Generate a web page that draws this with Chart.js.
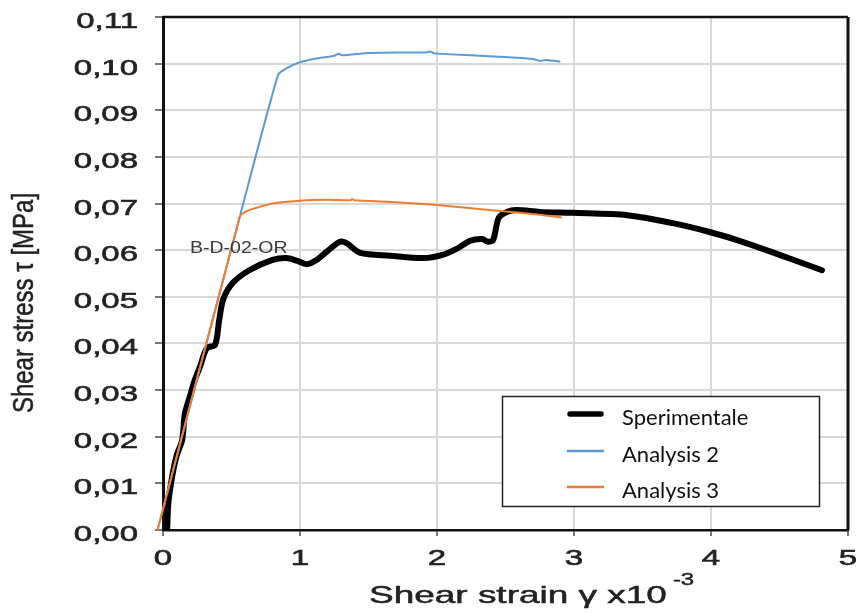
<!DOCTYPE html>
<html>
<head>
<meta charset="utf-8">
<title>Shear stress vs shear strain</title>
<script src="https://cdn.jsdelivr.net/npm/chart.js@4.4.1/dist/chart.umd.min.js"></script>
<style>
  html, body { margin: 0; padding: 0; background: #fff; }
  #wrap { width: 859px; height: 613px; }
</style>
</head>
<body>
<div id="wrap"><canvas id="shearChart" width="859" height="613"></canvas></div>
<script>
// Panel B-D-02-OR: experimental curve against two numerical analyses
const strainExp = [0.03, 0.04, 0.07, 0.10, 0.14, 0.16, 0.20, 0.23, 0.27, 0.32, 0.38, 0.41, 0.44,
    0.51, 0.63, 0.80, 0.90, 0.98, 1.05, 1.12, 1.20, 1.29, 1.34, 1.44, 1.66, 1.90, 2.04, 2.15,
    2.24, 2.33, 2.37, 2.41, 2.45, 2.51, 2.58, 2.75, 2.99, 3.39, 3.72, 3.99, 4.23, 4.50, 4.81];
const stressExp = [0, 0.006, 0.012, 0.016, 0.0193, 0.025, 0.029, 0.032, 0.035, 0.039, 0.0397, 0.045, 0.0495,
    0.053, 0.0557, 0.0579, 0.0583, 0.0577, 0.0570, 0.0579, 0.0598, 0.0618, 0.0615, 0.0594, 0.0588, 0.0583, 0.0590, 0.0604,
    0.0620, 0.0624, 0.0618, 0.0622, 0.0669, 0.0682, 0.0686, 0.0682, 0.0680, 0.0675, 0.0658, 0.0639, 0.0618, 0.0590, 0.0557];

const strainA2 = [-0.04, 0.56, 0.84, 0.90, 1.00, 1.10, 1.25, 1.28, 1.31, 1.50, 1.75, 1.92, 1.95, 1.98,
    2.25, 2.50, 2.70, 2.75, 2.80, 2.90];
const stressA2 = [0, 0.0671, 0.0976, 0.0990, 0.1003, 0.1010, 0.1017, 0.1021, 0.1018, 0.1023, 0.1024, 0.1024, 0.1026, 0.1022,
    0.1018, 0.1014, 0.1010, 0.1006, 0.1008, 0.1004];

const strainA3 = [-0.04, 0.56, 0.60, 0.65, 0.80, 1.00, 1.20, 1.37, 1.38, 1.40, 1.70, 2.00, 2.46, 2.75, 2.91];
const stressA3 = [0, 0.0671, 0.0682, 0.0688, 0.0700, 0.0706, 0.0708, 0.0707, 0.0710, 0.0707, 0.0703, 0.0697, 0.0684, 0.0676, 0.0670];

const xTicks = [0, 1, 2, 3, 4, 5];
const yTicks = [0, 0.01, 0.02, 0.03, 0.04, 0.05, 0.06, 0.07, 0.08, 0.09, 0.10, 0.11];

const seriesNames = ['Sperimentale', 'Analysis 2', 'Analysis 3'];
const specimenLabel = 'B-D-02-OR';
const xTitle = 'Shear strain \u03b3 x10';
const xTitleExp = '-3';
const yTitle = 'Shear stress \u03c4 [MPa]';

function toPoints(xs, ys) {
    return xs.map(function(x, i) { return { x: x, y: ys[i] }; });
}

// text is drawn a bit wider than the font's own metrics
function drawText(ctx, text, x, y, o) {
    ctx.save();
    ctx.font = o.font;
    ctx.fillStyle = o.color || '#333';
    ctx.textAlign = o.align || 'left';
    ctx.textBaseline = 'alphabetic';
    ctx.translate(x, y);
    if (o.rotate) ctx.rotate(o.rotate);
    ctx.scale(o.sx || 1, o.sy || 1);
    ctx.fillText(text, 0, 0);
    if (o.weight) {
        ctx.strokeStyle = ctx.fillStyle;
        ctx.lineWidth = o.weight;
        ctx.strokeText(text, 0, 0);
    }
    ctx.restore();
}

// top and right edges of the plot frame
const framePlugin = {
    id: 'frame',
    beforeDatasetsDraw(chart) {
        const a = chart.chartArea;
        const ctx = chart.ctx;
        ctx.save();
        ctx.strokeStyle = '#111';
        ctx.lineWidth = 2.5;
        ctx.beginPath();
        ctx.moveTo(a.left, a.top);
        ctx.lineTo(a.right, a.top);
        ctx.stroke();
        ctx.lineWidth = 3;
        ctx.beginPath();
        ctx.moveTo(a.right, a.top);
        ctx.lineTo(a.right, a.bottom);
        ctx.stroke();
        ctx.restore();
    }
};

// tick labels, titles, specimen tag and the boxed legend
const labelPlugin = {
    id: 'labels',
    afterDraw(chart) {
        const ctx = chart.ctx;
        const xs = chart.scales.x;
        const ys = chart.scales.y;
        const tickFont = '22px "Liberation Sans", Arial, sans-serif';
        const ink = '#222';

        yTicks.forEach(function(v) {
            const py = ys.getPixelForValue(v);
            drawText(ctx, v.toFixed(2).replace('.', ','), 138, py + 11,
                { font: tickFont, align: 'right', sx: 1.5, color: ink, weight: 0.6 });
        });
        xTicks.forEach(function(v) {
            const px = xs.getPixelForValue(v);
            drawText(ctx, String(v), px, 565,
                { font: tickFont, align: 'center', sx: 1.5, color: ink, weight: 0.6 });
        });

        // x title with superscript exponent
        const titleFont = '24px "Liberation Sans", Arial, sans-serif';
        ctx.save();
        ctx.font = titleFont;
        const w = ctx.measureText(xTitle).width * 1.54;
        ctx.restore();
        drawText(ctx, xTitle, 369, 603, { font: titleFont, sx: 1.54, color: ink, weight: 0.5 });
        drawText(ctx, xTitleExp, 369 + w + 6, 585,
            { font: '16px "Liberation Sans", Arial, sans-serif', sx: 1.5, color: ink, weight: 0.4 });

        drawText(ctx, yTitle, 33, 303, {
            font: '24px "Liberation Sans", Arial, sans-serif', align: 'center',
            rotate: -Math.PI / 2, sy: 1.2, color: ink, weight: 0.4
        });

        drawText(ctx, specimenLabel, 190, 253,
            { font: '16px "Liberation Sans", Arial, sans-serif', sx: 1.22, color: '#3a3a3a' });

        // legend box
        ctx.save();
        ctx.fillStyle = '#fff';
        ctx.fillRect(502, 396, 317, 110);
        ctx.strokeStyle = '#222';
        ctx.lineWidth = 1.5;
        ctx.strokeRect(502.5, 396.5, 317, 110);
        const rowY = [414, 451, 487];
        chart.data.datasets.forEach(function(ds, i) {
            ctx.strokeStyle = ds.borderColor;
            ctx.lineWidth = i === 0 ? 5.5 : 2.5;
            ctx.lineCap = i === 0 ? 'round' : 'butt';
            ctx.beginPath();
            ctx.moveTo(i === 0 ? 570 : 567, rowY[i]);
            ctx.lineTo(i === 0 ? 601 : 604, rowY[i]);
            ctx.stroke();
            drawText(ctx, ds.label, 622, rowY[i] + 11,
                { font: '22px Lato, "Open Sans", sans-serif', color: '#111' });
        });
        ctx.restore();
    }
};

const gridColor = '#d8d8d8';

new Chart(document.getElementById('shearChart'), {
    type: 'line',
    data: {
        datasets: [{
            label: seriesNames[0],
            data: toPoints(strainExp, stressExp),
            borderColor: '#000000',
            borderWidth: 6,
            borderJoinStyle: 'round',
            borderCapStyle: 'round',
            tension: 0.3,
            pointRadius: 0,
            order: 2
        }, {
            label: seriesNames[1],
            data: toPoints(strainA2, stressA2),
            borderColor: '#5b9bd5',
            borderWidth: 2,
            tension: 0.2,
            pointRadius: 0,
            clip: false,
            order: 1
        }, {
            label: seriesNames[2],
            data: toPoints(strainA3, stressA3),
            borderColor: '#ed7d31',
            borderWidth: 2,
            tension: 0.2,
            pointRadius: 0,
            clip: false,
            order: 0
        }]
    },
    options: {
        responsive: false,
        animation: false,
        layout: { padding: { left: 0, top: 17, right: 11, bottom: 0 } },
        plugins: {
            legend: { display: false },
            tooltip: { enabled: false }
        },
        scales: {
            x: {
                type: 'linear',
                min: 0,
                max: 5,
                afterBuildTicks: function(scale) {
                    scale.ticks = xTicks.map(function(v) { return { value: v }; });
                },
                afterFit: function(scale) { scale.height = 83; },
                ticks: { display: false },
                grid: { color: gridColor, lineWidth: 2, tickLength: 6, tickColor: '#777' },
                border: { color: '#111', width: 2.5 }
            },
            y: {
                type: 'linear',
                min: 0,
                max: 0.11,
                afterBuildTicks: function(scale) {
                    scale.ticks = yTicks.map(function(v) { return { value: v }; });
                },
                afterFit: function(scale) { scale.width = 163; },
                ticks: { display: false },
                grid: { color: gridColor, lineWidth: 2, tickLength: 8, tickColor: '#777' },
                border: { color: '#111', width: 3 }
            }
        }
    },
    plugins: [framePlugin, labelPlugin]
});
</script>
</body>
</html>
